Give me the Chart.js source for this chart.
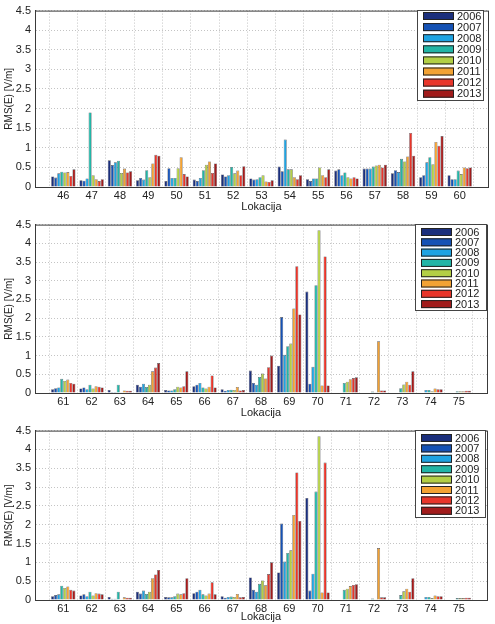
<!DOCTYPE html>
<html>
<head>
<meta charset="utf-8">
<script src="https://cdn.jsdelivr.net/npm/chart.js@4.4.1/dist/chart.umd.min.js"></script>
<style>
  body { margin: 0; background: #fff; }
  #wrap { position: relative; width: 495px; height: 624px; }
  canvas { position: absolute; left: 0; }
</style>
</head>
<body>
<div id="wrap">
  <canvas id="c1" width="495" height="214" style="top:0px"></canvas>
  <canvas id="c2" width="495" height="206" style="top:214px"></canvas>
  <canvas id="c3" width="495" height="204" style="top:420px"></canvas>
</div>
<script>
const years = ['2006', '2007', '2008', '2009', '2010', '2011', '2012', '2013'];
const colors = ['#1b2f7c', '#1552b5', '#1ea3e2', '#22b5a6', '#b3cf45', '#f3a233', '#e8352a', '#a11b1b'];

// lokacije 46-60
const locTop = [46, 47, 48, 49, 50, 51, 52, 53, 54, 55, 56, 57, 58, 59, 60];
const top2006 = [0.27, 0.17, 0.68, 0.17, 0.15, 0.19, 0.32, 0.22, 0.52, 0.20, 0.42, 0.47, 0.35, 0.25, 0.30];
const top2007 = [0.24, 0.16, 0.56, 0.23, 0.48, 0.15, 0.27, 0.19, 0.40, 0.15, 0.45, 0.47, 0.43, 0.30, 0.20];
const top2008 = [0.35, 0.22, 0.63, 0.19, 0.23, 0.23, 0.30, 0.20, 1.21, 0.22, 0.30, 0.47, 0.38, 0.63, 0.20];
const top2009 = [0.39, 1.90, 0.67, 0.43, 0.23, 0.43, 0.51, 0.25, 0.45, 0.22, 0.37, 0.52, 0.72, 0.76, 0.42];
const top2010 = [0.37, 0.30, 0.36, 0.25, 0.48, 0.57, 0.35, 0.30, 0.45, 0.50, 0.25, 0.55, 0.65, 0.58, 0.33];
const top2011 = [0.38, 0.20, 0.47, 0.60, 0.76, 0.65, 0.42, 0.14, 0.25, 0.30, 0.22, 0.57, 0.78, 1.15, 0.50];
const top2012 = [0.28, 0.15, 0.37, 0.82, 0.33, 0.36, 0.30, 0.13, 0.20, 0.25, 0.25, 0.50, 1.38, 1.05, 0.48];
const top2013 = [0.45, 0.20, 0.40, 0.80, 0.27, 0.60, 0.53, 0.17, 0.30, 0.45, 0.22, 0.57, 0.80, 1.30, 0.50];

// lokacije 61-75 (isti podaci na drugom i trecem grafu)
const locBot = [61, 62, 63, 64, 65, 66, 67, 68, 69, 70, 71, 72, 73, 74, 75];
const bot2006 = [0.10, 0.12, 0.08, 0.22, 0.08, 0.18, 0.10, 0.60, 0.73, 2.71, 0, 0, 0, 0, 0];
const bot2007 = [0.13, 0.15, 0.03, 0.17, 0.07, 0.22, 0.06, 0.27, 2.03, 0.25, 0, 0, 0, 0, 0];
const bot2008 = [0.15, 0.10, 0.03, 0.25, 0.07, 0.27, 0.08, 0.22, 1.02, 0.70, 0, 0, 0, 0.08, 0];
const bot2009 = [0.38, 0.22, 0.22, 0.16, 0.10, 0.15, 0.09, 0.43, 1.25, 2.88, 0.27, 0.04, 0.13, 0.08, 0.05];
const bot2010 = [0.32, 0.12, 0.02, 0.22, 0.17, 0.12, 0.08, 0.52, 1.32, 4.35, 0.30, 0.02, 0.23, 0.05, 0.05];
const bot2011 = [0.36, 0.18, 0.07, 0.58, 0.15, 0.17, 0.16, 0.39, 2.26, 0.20, 0.37, 1.38, 0.30, 0.12, 0.05];
const bot2012 = [0.27, 0.17, 0.06, 0.68, 0.18, 0.47, 0.07, 0.69, 3.39, 3.65, 0.40, 0.07, 0.22, 0.10, 0.06];
const bot2013 = [0.25, 0.15, 0.06, 0.80, 0.58, 0.15, 0.08, 1.00, 2.10, 0.20, 0.42, 0.07, 0.58, 0.10, 0.06];

const yTicks = [0, 0.5, 1, 1.5, 2, 2.5, 3, 3.5, 4, 4.5];

const FONT = "'Liberation Sans', Arial, sans-serif";

// okvir oko grafa + legenda unutar grafa (kao u Matlabu)
const boxLegend = {
    id: 'boxLegend',
    afterDraw(chart, args, opts) {
        const ctx = chart.ctx;
        const a = chart.chartArea;
        ctx.save();
        ctx.strokeStyle = '#3a3a3a';
        ctx.lineWidth = 1;
        ctx.strokeRect(a.left + 0.5, a.top + 0.5, a.right - a.left, a.bottom - a.top);

        const x = opts.x, y = opts.y, w = opts.w, h = opts.h;
        ctx.fillStyle = '#fff';
        ctx.fillRect(x, y, w, h);
        ctx.strokeStyle = '#444';
        ctx.strokeRect(x + 0.5, y + 0.5, w, h);
        ctx.font = '11px ' + FONT;
        ctx.textBaseline = 'middle';
        chart.data.datasets.forEach((ds, i) => {
            const cy = opts.first + i * opts.row;
            ctx.fillStyle = ds.backgroundColor;
            ctx.fillRect(x + 6, cy - 4, 31, 8);
            ctx.strokeStyle = '#222';
            ctx.strokeRect(x + 6.5, cy - 3.5, 30, 7);
            ctx.fillStyle = '#222';
            ctx.fillText(ds.label, x + 40, cy + 0.5);
        });
        ctx.restore();
    }
};

function makeChart(id, cats, series, lay) {
    const datasets = series.map((vals, i) => ({
        label: years[i],
        data: cats.map((c, j) => ({ x: c, y: vals[j] })),
        backgroundColor: colors[i],
        borderColor: 'rgba(15,15,25,0.7)',
        borderWidth: 0.6,
        categoryPercentage: 0.86,
        barPercentage: 1.0
    }));
    return new Chart(document.getElementById(id).getContext('2d'), {
        type: 'bar',
        data: { datasets: datasets },
        plugins: [boxLegend],
        options: {
            responsive: false,
            animation: false,
            layout: { padding: { top: lay.top, right: lay.right, left: 0, bottom: 0 } },
            plugins: {
                legend: { display: false },
                tooltip: { enabled: false },
                boxLegend: lay.legend
            },
            scales: {
                x: {
                    type: 'linear',
                    min: cats[0] - 1,
                    max: cats[cats.length - 1] + 1,
                    offset: false,
                    afterFit: s => { s.height = lay.xh; },
                    afterBuildTicks: s => {
                        s.ticks = [];
                        for (let v = s.min; v <= s.max; v++) s.ticks.push({ value: v });
                    },
                    ticks: {
                        autoSkip: false,
                        maxRotation: 0,
                        padding: 2,
                        color: '#222',
                        font: { family: FONT, size: 11 },
                        callback: v => (cats.includes(v) ? String(v) : '')
                    },
                    grid: { color: '#c4c4c4', drawTicks: false },
                    border: { display: true, color: '#3a3a3a', dash: [1, 2] },
                    title: {
                        display: true,
                        text: 'Lokacija',
                        color: '#222',
                        padding: 0,
                        font: { family: FONT, size: 11 }
                    }
                },
                y: {
                    min: 0,
                    max: 4.5,
                    afterFit: s => { s.width = 35; },
                    afterBuildTicks: s => { s.ticks = yTicks.map(v => ({ value: v })); },
                    ticks: {
                        padding: 4,
                        color: '#222',
                        font: { family: FONT, size: 11 },
                        callback: v => String(v)
                    },
                    grid: { color: '#c4c4c4', drawTicks: false },
                    border: { display: true, color: '#3a3a3a', dash: [1, 2] },
                    title: {
                        display: true,
                        text: 'RMS(E) [V/m]',
                        color: '#222',
                        padding: { top: 3, bottom: 0 },
                        font: { family: FONT, size: 10 }
                    }
                }
            }
        }
    });
}

makeChart('c1', locTop,
    [top2006, top2007, top2008, top2009, top2010, top2011, top2012, top2013],
    { top: 8, right: 7, xh: 27,
      legend: { x: 417, y: 10, w: 66, h: 90, first: 16, row: 11.1 } });

makeChart('c2', locBot,
    [bot2006, bot2007, bot2008, bot2009, bot2010, bot2011, bot2012, bot2013],
    { top: 9, right: 8, xh: 27,
      legend: { x: 415, y: 10, w: 71, h: 86, first: 18, row: 10.3 } });

makeChart('c3', locBot,
    [bot2006, bot2007, bot2008, bot2009, bot2010, bot2011, bot2012, bot2013],
    { top: 10, right: 8, xh: 24,
      legend: { x: 415, y: 10, w: 70, h: 87, first: 18, row: 10.4 } });
</script>
</body>
</html>
